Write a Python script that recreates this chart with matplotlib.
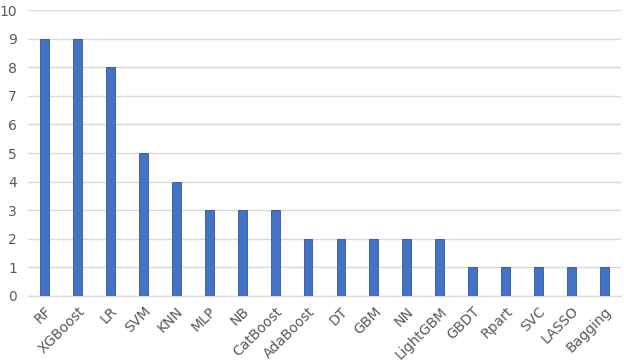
import matplotlib.pyplot as plt
import numpy as np

models = ['RF', 'XGBoost', 'LR', 'SVM', 'KNN', 'MLP', 'NB', 'CatBoost', 'AdaBoost',
          'DT', 'GBM', 'NN', 'LightGBM', 'GBDT', 'Rpart', 'SVC', 'LASSO', 'Bagging']
counts = [9, 9, 8, 5, 4, 3, 3, 3, 2, 2, 2, 2, 2, 1, 1, 1, 1, 1]
yticks = list(range(0, 11))

fig = plt.figure(figsize=(6.24, 3.63), dpi=100)
ax = fig.add_axes([0.045, 0.185, 0.95, 0.787])

x = np.arange(len(models))
ax.bar(x, counts, width=0.27, color='#4472C4', edgecolor='#2F5597', linewidth=0.6, zorder=3)

ax.set_xlim(-0.5, len(models) - 0.5)
ax.set_ylim(0, 10)
ax.set_yticks(yticks)
ax.set_xticks(x)
ax.set_xticklabels(models, rotation=45, ha='right', rotation_mode='anchor')
ax.tick_params(axis='both', length=0, colors='#595959', labelsize=10)
ax.tick_params(axis='x', pad=6)
ax.tick_params(axis='y', pad=8)
ax.grid(axis='y', color='#D9D9D9', linewidth=1, zorder=0)
for s in ['top', 'right', 'left']:
    ax.spines[s].set_visible(False)
ax.spines['bottom'].set_color('#D9D9D9')
ax.spines['bottom'].set_linewidth(1)

fig.savefig('out.png', dpi=100)
